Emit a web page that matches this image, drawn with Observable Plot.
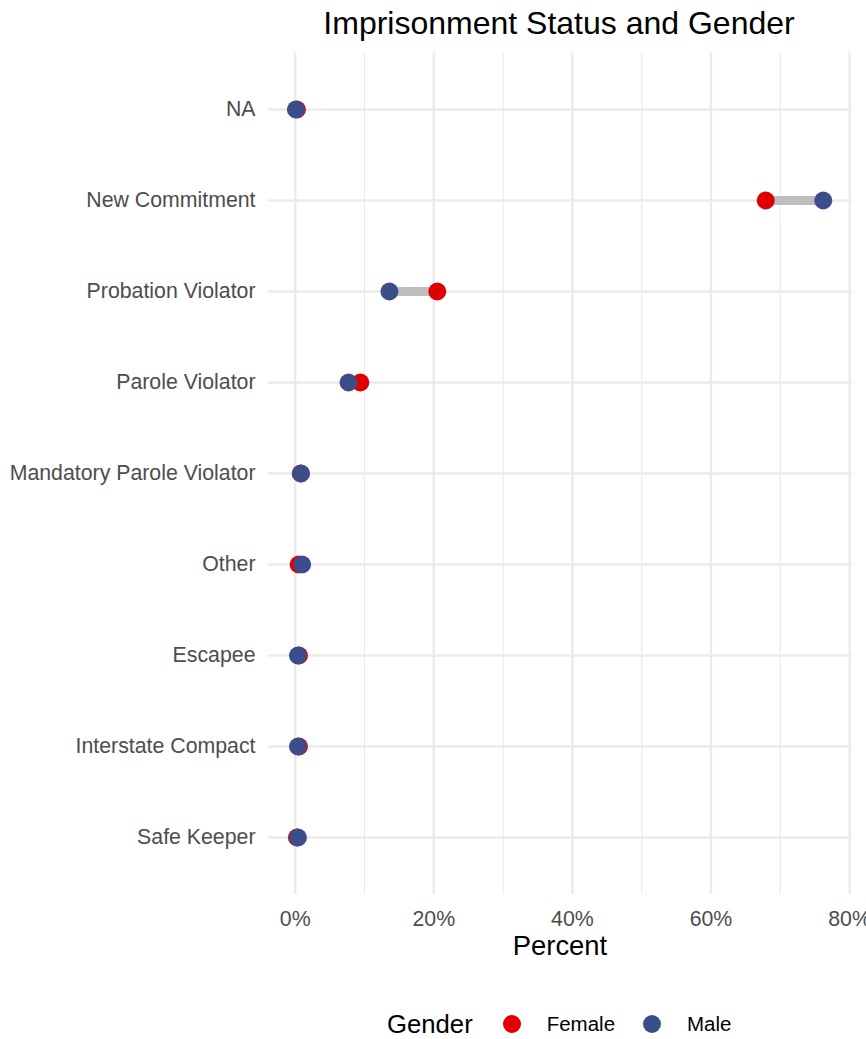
<!DOCTYPE html>
<html>
<head>
<meta charset="utf-8">
<script src="https://cdn.jsdelivr.net/npm/d3@7"></script>
<script src="https://cdn.jsdelivr.net/npm/@observablehq/plot@0.6"></script>
<style>
  html, body { margin: 0; padding: 0; background: #fff; }
  #wrap { position: relative; width: 866px; height: 1039px; font-family: "Liberation Sans", Arial, sans-serif; }
  #legend { position: absolute; left: 387px; top: 1010px; height: 28px; display: flex; align-items: center; font-family: "Liberation Sans", Arial, sans-serif; }
  #legend .title { font-size: 25.7px; color: #000; margin-right: 30px; }
  #legend .sw { width: 18px; height: 18px; border-radius: 50%; display: inline-block; margin-right: 26px; }
  #legend .lab { font-size: 20.5px; color: #000; margin-right: 28px; }
</style>
</head>
<body>
<div id="wrap"></div>
<script>
// ---- data ----
const categories = ["NA", "New Commitment", "Probation Violator", "Parole Violator",
  "Mandatory Parole Violator", "Other", "Escapee", "Interstate Compact", "Safe Keeper"];
const femalePct = [0.25, 67.9, 20.5, 9.4, 0.8, 0.5, 0.55, 0.55, 0.25];
const malePct   = [0.1, 76.2, 13.6, 7.7, 0.84, 1.0, 0.4, 0.4, 0.4];
const genders = ["Female", "Male"];
const genderColors = ["#E00000", "#3B4E8A"];
const xTicks = [0, 20, 40, 60, 80];
const xMinorTicks = [10, 30, 50, 70];

// ---- tables ----
const pairs = categories.map((c, i) => ({status: c, female: femalePct[i], male: malePct[i]}));
const long = [
  ...categories.map((c, i) => ({status: c, gender: "Female", pct: femalePct[i]})),
  ...categories.map((c, i) => ({status: c, gender: "Male", pct: malePct[i]}))
];

const font = "Liberation Sans, Arial, sans-serif";
const plot = Plot.plot({
  width: 866,
  height: 970,
  marginLeft: 268,
  marginRight: 14,
  marginTop: 52.4,
  marginBottom: 76,
  style: {fontFamily: font, color: "#4D4D4D", background: "transparent"},
  x: {domain: [-3.85, 80.42]},
  y: {type: "point", domain: categories, padding: 0.6},
  color: {domain: genders, range: genderColors},
  marks: [
    Plot.gridX({ticks: xMinorTicks, stroke: "#EBEBEB", strokeOpacity: 1, strokeWidth: 1.2}),
    Plot.gridX({ticks: xTicks, stroke: "#EBEBEB", strokeOpacity: 1, strokeWidth: 2.4}),
    Plot.gridY({stroke: "#EBEBEB", strokeOpacity: 1, strokeWidth: 2.4}),
    Plot.axisX({ticks: xTicks, tickFormat: d => d + "%", tickSize: 0, tickPadding: 16, fontSize: 21.3, label: null}),
    Plot.axisY({tickSize: 0, tickPadding: 13, fontSize: 21.3, label: null}),
    Plot.link(pairs, {x1: "female", x2: "male", y1: "status", y2: "status", stroke: "#BEBEBE", strokeWidth: 9}),
    Plot.dot(long, {x: "pct", y: "status", fill: "gender", r: 9}),
    Plot.text(["Imprisonment Status and Gender"], {frameAnchor: "top", lineAnchor: "middle", dy: -29.6, dx: -1.5, fontSize: 32, fill: "#000"}),
    Plot.text(["Percent"], {frameAnchor: "bottom", lineAnchor: "middle", dy: 52.2, dx: -0.5, fontSize: 27.4, fill: "#000"})
  ]
});
const wrap = document.getElementById("wrap");
wrap.appendChild(plot);

// ---- legend ----
const colorScale = plot.scale("color");
const leg = document.createElement("div");
leg.id = "legend";
const t = document.createElement("span");
t.className = "title";
t.textContent = "Gender";
leg.appendChild(t);
colorScale.domain.forEach((g, i) => {
  const sw = document.createElement("span");
  sw.className = "sw";
  sw.style.background = colorScale.range[i];
  leg.appendChild(sw);
  const lab = document.createElement("span");
  lab.className = "lab";
  lab.textContent = g;
  leg.appendChild(lab);
});
wrap.appendChild(leg);
</script>
</body>
</html>
